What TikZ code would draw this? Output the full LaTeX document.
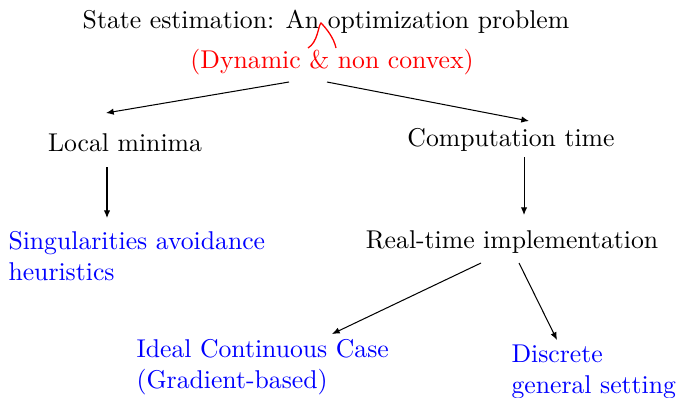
\documentclass[tikz,border=0pt]{standalone}
\usetikzlibrary{arrows.meta}
\definecolor{myblue}{RGB}{0,0,255}
\definecolor{myred}{RGB}{255,0,0}
\begin{document}
\begin{tikzpicture}[x=0.389pt,y=-0.389pt,
  lbl/.style={inner sep=0pt,anchor=base},
  lbll/.style={inner sep=0pt,anchor=base west,align=left},
  arr/.style={-{Latex[length=3pt,width=2.5pt]},line width=0.4pt}]
\useasboundingbox (0,0) rectangle (677,397);
\node[lbl] (title) at (326,28) {State estimation: An optimization problem};
\node[lbl,text=myred] (dyn) at (332,68) {(Dynamic \& non convex)};
\draw[myred,line width=0.5pt] (308,48) .. controls (318,42) and (318,26) .. (321,23)
  .. controls (326,28) and (334,38) .. (336,48);
\node[lbl] (local) at (125,151) {Local minima};
\node[lbl] (comp) at (511,146) {Computation time};
\node[lbl] (real) at (512,248) {Real-time implementation};
\node[lbll,text=myblue] (sing) at (8,280) {Singularities avoidance\\heuristics};
\node[lbll,text=myblue] (ideal) at (136,388) {Ideal Continuous Case\\(Gradient-based)};
\node[lbll,text=myblue] (disc) at (511,393) {Discrete\\general setting};
\coordinate (a1s) at (289,82); \coordinate (a1e) at (106,113);
\coordinate (a2s) at (327,82); \coordinate (a2e) at (529,121);
\coordinate (a3s) at (107,167); \coordinate (a3e) at (107,218);
\coordinate (a4s) at (524,157); \coordinate (a4e) at (524,215);
\coordinate (a5s) at (481,263); \coordinate (a5e) at (332,334);
\coordinate (a6s) at (519,263); \coordinate (a6e) at (557,340);
\draw[arr] (a1s) -- (a1e);
\draw[arr] (a2s) -- (a2e);
\draw[arr] (a3s) -- (a3e);
\draw[arr] (a4s) -- (a4e);
\draw[arr] (a5s) -- (a5e);
\draw[arr] (a6s) -- (a6e);
\end{tikzpicture}
\end{document}
